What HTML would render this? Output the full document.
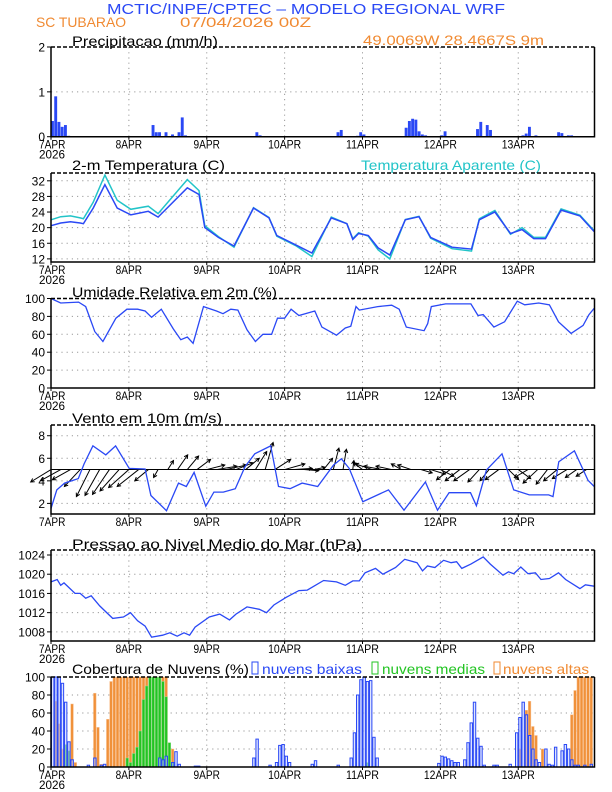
<!DOCTYPE html>
<html><head><meta charset="utf-8"><style>
html,body{margin:0;padding:0;background:#fff;}
svg{display:block;font-family:"Liberation Sans",sans-serif;}
</style></head><body>
<svg id="chart" width="612" height="792" viewBox="0 0 612 792" xmlns="http://www.w3.org/2000/svg">
<rect width="612" height="792" fill="#fff"/>
<text x="306" y="14" text-anchor="middle" font-size="15" fill="#2a48f5" textLength="398" lengthAdjust="spacingAndGlyphs">MCTIC/INPE/CPTEC – MODELO REGIONAL WRF</text>
<text x="36" y="27" font-size="14" fill="#f08a32" textLength="90" lengthAdjust="spacingAndGlyphs">SC TUBARAO</text>
<text x="180" y="27" font-size="14" fill="#f08a32" textLength="131" lengthAdjust="spacingAndGlyphs">07/04/2026 00Z</text>
<text x="363" y="45" font-size="14" fill="#f08a32" textLength="181" lengthAdjust="spacingAndGlyphs">49.0069W 28.4667S 9m</text>
<text x="72" y="46" font-size="14" fill="#000" textLength="146" lengthAdjust="spacingAndGlyphs">Precipitacao (mm/h)</text>
<text x="72" y="170" font-size="14" fill="#000" textLength="153" lengthAdjust="spacingAndGlyphs">2-m Temperatura (C)</text>
<text x="361" y="170" font-size="14" fill="#22c4c8" textLength="180" lengthAdjust="spacingAndGlyphs">Temperatura Aparente (C)</text>
<text x="72" y="297" font-size="14" fill="#000" textLength="205" lengthAdjust="spacingAndGlyphs">Umidade Relativa em 2m (%)</text>
<text x="72" y="423" font-size="14" fill="#000" textLength="150" lengthAdjust="spacingAndGlyphs">Vento em 10m (m/s)</text>
<text x="72" y="549" font-size="14" fill="#000" textLength="290" lengthAdjust="spacingAndGlyphs">Pressao ao Nivel Medio do Mar (hPa)</text>
<text x="72" y="674" font-size="14" fill="#000" textLength="177" lengthAdjust="spacingAndGlyphs">Cobertura de Nuvens (%)</text>
<rect x="252" y="662" width="6" height="12" fill="none" stroke="#2a48f5" stroke-width="1"/>
<text x="262" y="674" font-size="14" fill="#2a48f5" textLength="100" lengthAdjust="spacingAndGlyphs">nuvens baixas</text>
<rect x="372" y="662" width="6" height="12" fill="none" stroke="#22c422" stroke-width="1"/>
<text x="382" y="674" font-size="14" fill="#22c422" textLength="103" lengthAdjust="spacingAndGlyphs">nuvens medias</text>
<rect x="494" y="662" width="6" height="12" fill="none" stroke="#f08a32" stroke-width="1"/>
<text x="503" y="674" font-size="14" fill="#f08a32" textLength="86" lengthAdjust="spacingAndGlyphs">nuvens altas</text>
</svg>
<script>
// ---------- data ----------
const dayLabels = ["7APR","8APR","9APR","10APR","11APR","12APR","13APR"];
const precipHours = [1,2,3,4,5,6,32,33,34,36,38,40,41,42,64,65,89,90,95,96,97,110,111,112,113,114,115,116,121,122,132,133,135,136,146,147,148,150,157,158,160,161];
const precipVals  = [0.35,0.9,0.33,0.22,0.26,0.02,0.26,0.1,0.1,0.1,0.05,0.1,0.43,0.03,0.1,0.03,0.1,0.15,0.02,0.1,0.05,0.2,0.35,0.4,0.38,0.12,0.05,0.03,0.03,0.12,0.17,0.33,0.26,0.15,0.03,0.07,0.22,0.03,0.1,0.08,0.03,0.03];
const precipTicks = [0,1,2];

const tempHours = [0,3,6,9,10,13,16.6,20.4,24.6,30,33,42,45.6,47.4,51.6,56.4,62.4,67.2,69.6,75.6,80.4,86.4,91.2,93,94.8,97.8,100.8,104.4,109.2,113.4,117,123.6,129.6,132,136.8,141.6,145.2,148.8,152.4,157.2,163,167.4];
const tempVals  = [20.5,21.2,21.5,21.2,21,25,31,25,23.3,24.2,22.7,30.2,28.5,20,17.5,15.3,25,22.5,18,15.5,13.5,22.5,21,17,18.5,18,14.8,13,22,22.8,17.5,15,14.5,22,24,18.5,19.5,17.2,17.2,24.5,23,19];
const appTempVals = [22,22.8,23,22.5,22.3,26.5,33.5,27,24.7,25.5,23.6,32.3,29.5,20.5,17.7,15,25.1,22.6,17.8,15.3,12.6,22.7,21,17.2,18.7,17.8,14.3,12,22.1,22.9,17.3,14.6,14,22.3,24.4,18.3,20,17.5,17.5,24.8,23.2,19.2];
const tempTicks = [12,16,20,24,28,32];

const rhHours = [0,3,8.5,10.7,13.5,16,20,23.4,26.7,29,31,34,37.7,40,42,43.8,47,51,53,55.4,57.6,60.4,63,65.3,68,69.8,72,74,76.4,81.3,83.5,88,90.7,92.4,94,95,100.7,105,107.3,109.5,115,116.1,117.2,121.6,129.4,131.6,133.2,136.5,139.8,143.7,146,150.3,153.6,156.4,160.3,164,165.8,167.4];
const rhVals  = [100,95,96,91,63,52,78,88,88,86,79,88,66,54,57,50,91,86,83,88,87,65,52,60,60,78,78,88,81,86,68,59,67,69,91,87,91,92.5,88,68,64,72,91,94,94,81,82,68,74,97,93,95,93,74,61,70,82,89];
const rhTicks = [0,20,40,60,80,100];

const windHours = [0,1.8,4.2,8.4,10.2,12.9,16.9,19.9,24.1,29,30.8,35.6,39.3,41.7,44.1,47.7,50.2,53.1,56.8,59.8,62.8,67.7,70.1,73.7,77.4,82.2,87.1,89.5,91.9,96.1,104,108.8,115.4,119.1,122.7,129.3,131.1,134.2,139,142.6,147.4,153.4,154.7,156.5,161.3,165.5,167.4];
const windSpeed = [1.55,3.2,3.8,4.2,5.5,7.1,6.3,7.1,5.1,5.05,2.7,1.35,3.8,3.5,4.75,1.75,3,3,3.3,5.25,6.4,7.1,3.5,3.3,3.8,3.5,5.4,5.95,5.1,2.15,3.2,1.4,3.9,1.4,2.95,2.95,1.8,4.95,6.4,3.2,2.75,2.75,2.6,5.7,6.65,4.05,3.5];
const windTicks = [2,4,6,8];
const vecHours = [0,3,6,9,12,15,18,21,24,27,30,33,36,39,42,45,48,51,54,57,60,63,66,69,72,75,78,81,84,87,90,93,96,99,102,105,108,111,114,117,120,123,126,129,132,135,138,141,144,147,150,153,156,159,162,165];
const vecU = [-1.8,-1.8,-1.6,-1.4,-1.2,-1.3,-1.5,-1.7,-1.8,-1.9,-1.2,-0.4,0.5,0.9,1.0,1.2,1.6,1.8,1.8,1.5,1.2,1.0,0.7,1.4,1.8,1.6,1.3,1.0,0.8,0.5,0.3,0.1,-0.8,-1.5,-1.6,-1.4,-0.9,-1.2,1.0,1.3,1.2,-1.2,-1.3,-1.4,-1.0,-0.8,-1.2,0.9,1.1,-1.2,-1.3,-1.0,-1.2,-1.3,-1.0,-0.9];
const vecV = [-1.1,-1.0,-0.9,-1.5,-2.4,-2.3,-2.2,-1.9,-1.6,-1.5,-1.0,-0.7,0.8,1.3,1.2,0.9,0.4,0.3,0.4,0.6,1.0,1.6,2.4,0.9,0.5,0.1,-0.1,0.2,1.0,1.9,1.8,0.8,0.6,0.5,0.3,0.3,0.5,0.4,-0.3,-0.4,-0.6,-0.9,-1.0,-1.0,-1.1,-1.0,-0.9,-0.9,-0.8,-0.7,-1.2,-1.3,-1.0,-0.8,-0.7,-0.6];

const presHours = [0,1.9,3,4,7.4,9,10.7,12.4,15,19,22.3,24.5,26.7,29,31,34.4,36.6,38.9,41,42.7,44.4,48.8,52,55,57,60.4,64.2,66.4,68.7,72.5,76.4,79,84,88,90.7,93,95,96.8,100,102.3,106.2,109,112.8,114.5,116,118.3,121,123.3,125,126.6,129.4,133.2,135.4,139.3,141,142.6,144.8,147,149.3,151,153.6,156.4,158.6,163,164.7,167.4];
const presVals  = [1018.4,1018.9,1017.7,1018.2,1016,1016,1015,1015.5,1013.4,1010.8,1011.1,1012,1010.3,1009.2,1006.9,1007.3,1007.8,1007.1,1007.8,1007.3,1009,1011.1,1011.7,1010.5,1011.7,1013.2,1012.7,1012,1013.6,1015.2,1016.6,1016.7,1018.7,1018.4,1017.7,1018.6,1018.6,1020.3,1021.2,1020,1021.4,1023.1,1022.4,1020.7,1021.7,1021.4,1022.9,1022.4,1022.6,1021.2,1022.1,1023.6,1022.1,1019.8,1020.5,1020.1,1021.5,1020.1,1020.3,1018.9,1019.1,1020.3,1018.9,1017,1017.8,1017.5];
const presTicks = [1008,1012,1016,1020,1024];

const highHours = [2,3,4,7,8,14,15,16,18,19,20,21,22,23,24,25,26,27,28,29,30,31,32,33,34,35,36,37,38,145,147,148,149,150,152,161,162,163,164,165,166,167];
const highVals  = [73,48,20,70,5,82,44,3,53,95,100,100,100,100,100,100,100,100,100,100,100,100,100,100,100,100,100,27,20,20,63,73,45,35,20,58,85,100,100,100,100,100];
const midHours = [5,6,24,25,26,27,28,29,30,31,32,33,34,35,36,37,38,98];
const midVals  = [25,18,10,5,15,22,40,75,90,100,100,100,100,95,78,27,5,5];
const lowHours = [1,2,3,4,5,6,7,12,14,16,17,34,35,36,38,39,40,45,46,63,64,68,70,71,72,73,74,81,82,89,93,94,95,96,97,98,99,100,101,120,121,122,123,124,125,126,128,129,130,131,132,133,134,137,138,142,144,145,146,147,148,149,150,151,153,154,155,156,158,159,160,161,162,163,165,167];
const lowVals  = [100,100,100,93,72,28,8,2,10,2,3,10,8,12,5,17,3,1,1,10,31,2,5,24,25,12,5,3,7,2,10,38,80,97,100,95,96,33,10,4,12,11,9,7,5,5,8,27,49,72,32,23,2,2,2,3,38,55,72,58,35,20,8,5,20,3,2,22,18,25,20,8,2,2,2,3];
const cloudTicks = [0,20,40,60,80,100];

// ---------- drawing ----------
const NS = "http://www.w3.org/2000/svg";
const svg = document.getElementById("chart");
const X0 = 51, X1 = 594.5, HMAX = 167.5;
const xh = h => X0 + h * (X1 - X0) / HMAX;
function mk(tag, attrs, parent) {
  const e = document.createElementNS(NS, tag);
  for (const k in attrs) e.setAttribute(k, attrs[k]);
  (parent || svg).appendChild(e);
  return e;
}
function yScale(p) { return v => p.bottom - (v - p.min) / (p.max - p.min) * (p.bottom - p.top); }

const panels = {
  precip: {top:47, bottom:136.7, min:0, max:2, ticks:precipTicks, year:true},
  temp: {top:173, bottom:262, min:11.2, max:34, ticks:tempTicks, year:true},
  rh: {top:298.5, bottom:388, min:0, max:100, ticks:rhTicks, year:true},
  wind: {top:425, bottom:514, min:1.06, max:8.95, ticks:windTicks, year:false},
  pres: {top:550, bottom:641, min:1006.1, max:1025.04, ticks:presTicks, year:true},
  cloud: {top:677, bottom:767, min:0, max:100, ticks:cloudTicks, year:true}
};

function drawFrame(name, p) {
  const g = mk("g", {});
  
  
  const y = yScale(p);
  for (let d = 1; d < 7; d++) {
    const gl = mk("line", {x1:xh(d*24), x2:xh(d*24), y1:p.top, y2:p.bottom, stroke:"#999", "stroke-width":1, "stroke-dasharray":"1.2,4"}, g);
    
    
  }
  p.ticks.forEach(t => {
    const yy = y(t);
    if (yy > p.top + 1 && yy < p.bottom - 1) {
      const gl = mk("line", {x1:X0, x2:X1, y1:yy, y2:yy, stroke:"#999", "stroke-width":1, "stroke-dasharray":"1.2,4"}, g);
      
      
    }
    const tk = mk("line", {x1:X0-4, x2:X0, y1:yy, y2:yy, stroke:"#000", "stroke-width":1}, g);
    
    
    const tx = mk("text", {x:X0-6, y:yy+4.5, "text-anchor":"end", "font-size":12, fill:"#000"}, g);
    
    
    tx.textContent = t;
  });
  dayLabels.forEach((lab, i) => {
    const tx = mk("text", {x:xh(i*24), y:p.bottom+12, "text-anchor": i===0 ? "start" : "middle", "font-size":11.5, fill:"#000", textLength: lab.length*6.6, lengthAdjust:"spacingAndGlyphs"}, g);
    if (i === 0) tx.setAttribute("x", X0 - 12);
    
    
    tx.textContent = lab;
    const tk = mk("line", {x1:xh(i*24), x2:xh(i*24), y1:p.bottom, y2:p.bottom+3, stroke:"#000"}, g);
    
    
  });
  if (p.year) {
    const yr = mk("text", {x:X0-12, y:p.bottom+22, "font-size":11.5, fill:"#000", textLength:26, lengthAdjust:"spacingAndGlyphs"}, g);
    
    
    yr.textContent = "2026";
  }
  return {g, y};
}
function drawBorder(p, g) {
  const b = mk("path", {d:`M${X0},${p.top}V${p.bottom}H${X1}V${p.top}`, fill:"none", stroke:"#000", "stroke-width":1.5}, g);
  
  
  const t = mk("line", {x1:X0, x2:X1, y1:p.top, y2:p.top, stroke:"#000", "stroke-width":1.5, "stroke-dasharray":"4,2"}, g);
  
  
}
function linePath(hours, vals, y) {
  return hours.map((h, i) => (i ? "L" : "M") + xh(h).toFixed(1) + "," + y(vals[i]).toFixed(1)).join("");
}

// precip
{
  const p = panels.precip, f = drawFrame("precip", p);
  precipHours.forEach((h, i) => {
    const r = mk("rect", {x:xh(h-1), y:f.y(precipVals[i]), width:2.9, height:p.bottom - f.y(precipVals[i]), fill:"#2a48f5"}, f.g);
    
    
  });
  drawBorder(p, f.g);
}
// temp
{
  const p = panels.temp, f = drawFrame("temp", p);
  const a = mk("path", {d:linePath(tempHours, appTempVals, f.y), fill:"none", stroke:"#22c4c8", "stroke-width":1.5}, f.g);
  
  
  const t = mk("path", {d:linePath(tempHours, tempVals, f.y), fill:"none", stroke:"#2a48f5", "stroke-width":1.5}, f.g);
  
  
  drawBorder(p, f.g);
}
// rh
{
  const p = panels.rh, f = drawFrame("rh", p);
  const l = mk("path", {d:linePath(rhHours, rhVals, f.y), fill:"none", stroke:"#2a48f5", "stroke-width":1.3}, f.g);
  
  
  drawBorder(p, f.g);
}
// wind
{
  const p = panels.wind, f = drawFrame("wind", p);
  const k = (p.bottom - p.top) / (p.max - p.min);
  const base = f.y(5);
  vecHours.forEach((h, i) => {
    const x1 = xh(h), y1 = base, x2 = x1 + vecU[i]*k, y2 = y1 - vecV[i]*k;
    const ang = Math.atan2(y2-y1, x2-x1);
    const hx = (a) => (x2 - 4*Math.cos(ang+a)).toFixed(1) + "," + (y2 - 4*Math.sin(ang+a)).toFixed(1);
    const ar = mk("path", {d:`M${x1},${y1}L${x2.toFixed(1)},${y2.toFixed(1)}M${hx(0.5)}L${x2.toFixed(1)},${y2.toFixed(1)}L${hx(-0.5)}`, fill:"none", stroke:"#000", "stroke-width":1}, f.g);
    
    
  });
  const bl = mk("line", {x1:X0, x2:X1, y1:base, y2:base, stroke:"#000", "stroke-width":1}, f.g);
  
  
  const l = mk("path", {d:linePath(windHours, windSpeed, f.y), fill:"none", stroke:"#2a48f5", "stroke-width":1.3}, f.g);
  
  
  drawBorder(p, f.g);
}
// pressure
{
  const p = panels.pres, f = drawFrame("pres", p);
  const l = mk("path", {d:linePath(presHours, presVals, f.y), fill:"none", stroke:"#2a48f5", "stroke-width":1.3}, f.g);
  
  
  drawBorder(p, f.g);
}
// clouds
{
  const p = panels.cloud, f = drawFrame("cloud", p);
  highHours.forEach((h, i) => {
    const r = mk("rect", {x:xh(h-1)+0.3, y:f.y(highVals[i]), width:2.6, height:p.bottom - f.y(highVals[i]), fill:"#f0913a", stroke:"#f8c090", "stroke-width":0.5}, f.g);
    
    
  });
  midHours.forEach((h, i) => {
    const r = mk("rect", {x:xh(h-1)+0.3, y:f.y(midVals[i]), width:2.6, height:p.bottom - f.y(midVals[i]), fill:"#22c422", stroke:"#8fe08f", "stroke-width":0.5}, f.g);
    
    
  });
  lowHours.forEach((h, i) => {
    const r = mk("rect", {x:xh(h-1)+0.5, y:f.y(lowVals[i]), width:2.4, height:p.bottom - f.y(lowVals[i]), fill:"#c8d4ff", "fill-opacity":0.6, stroke:"#2a48f5", "stroke-width":1}, f.g);
    
    
  });
  drawBorder(p, f.g);
}
</script>
</body></html>
